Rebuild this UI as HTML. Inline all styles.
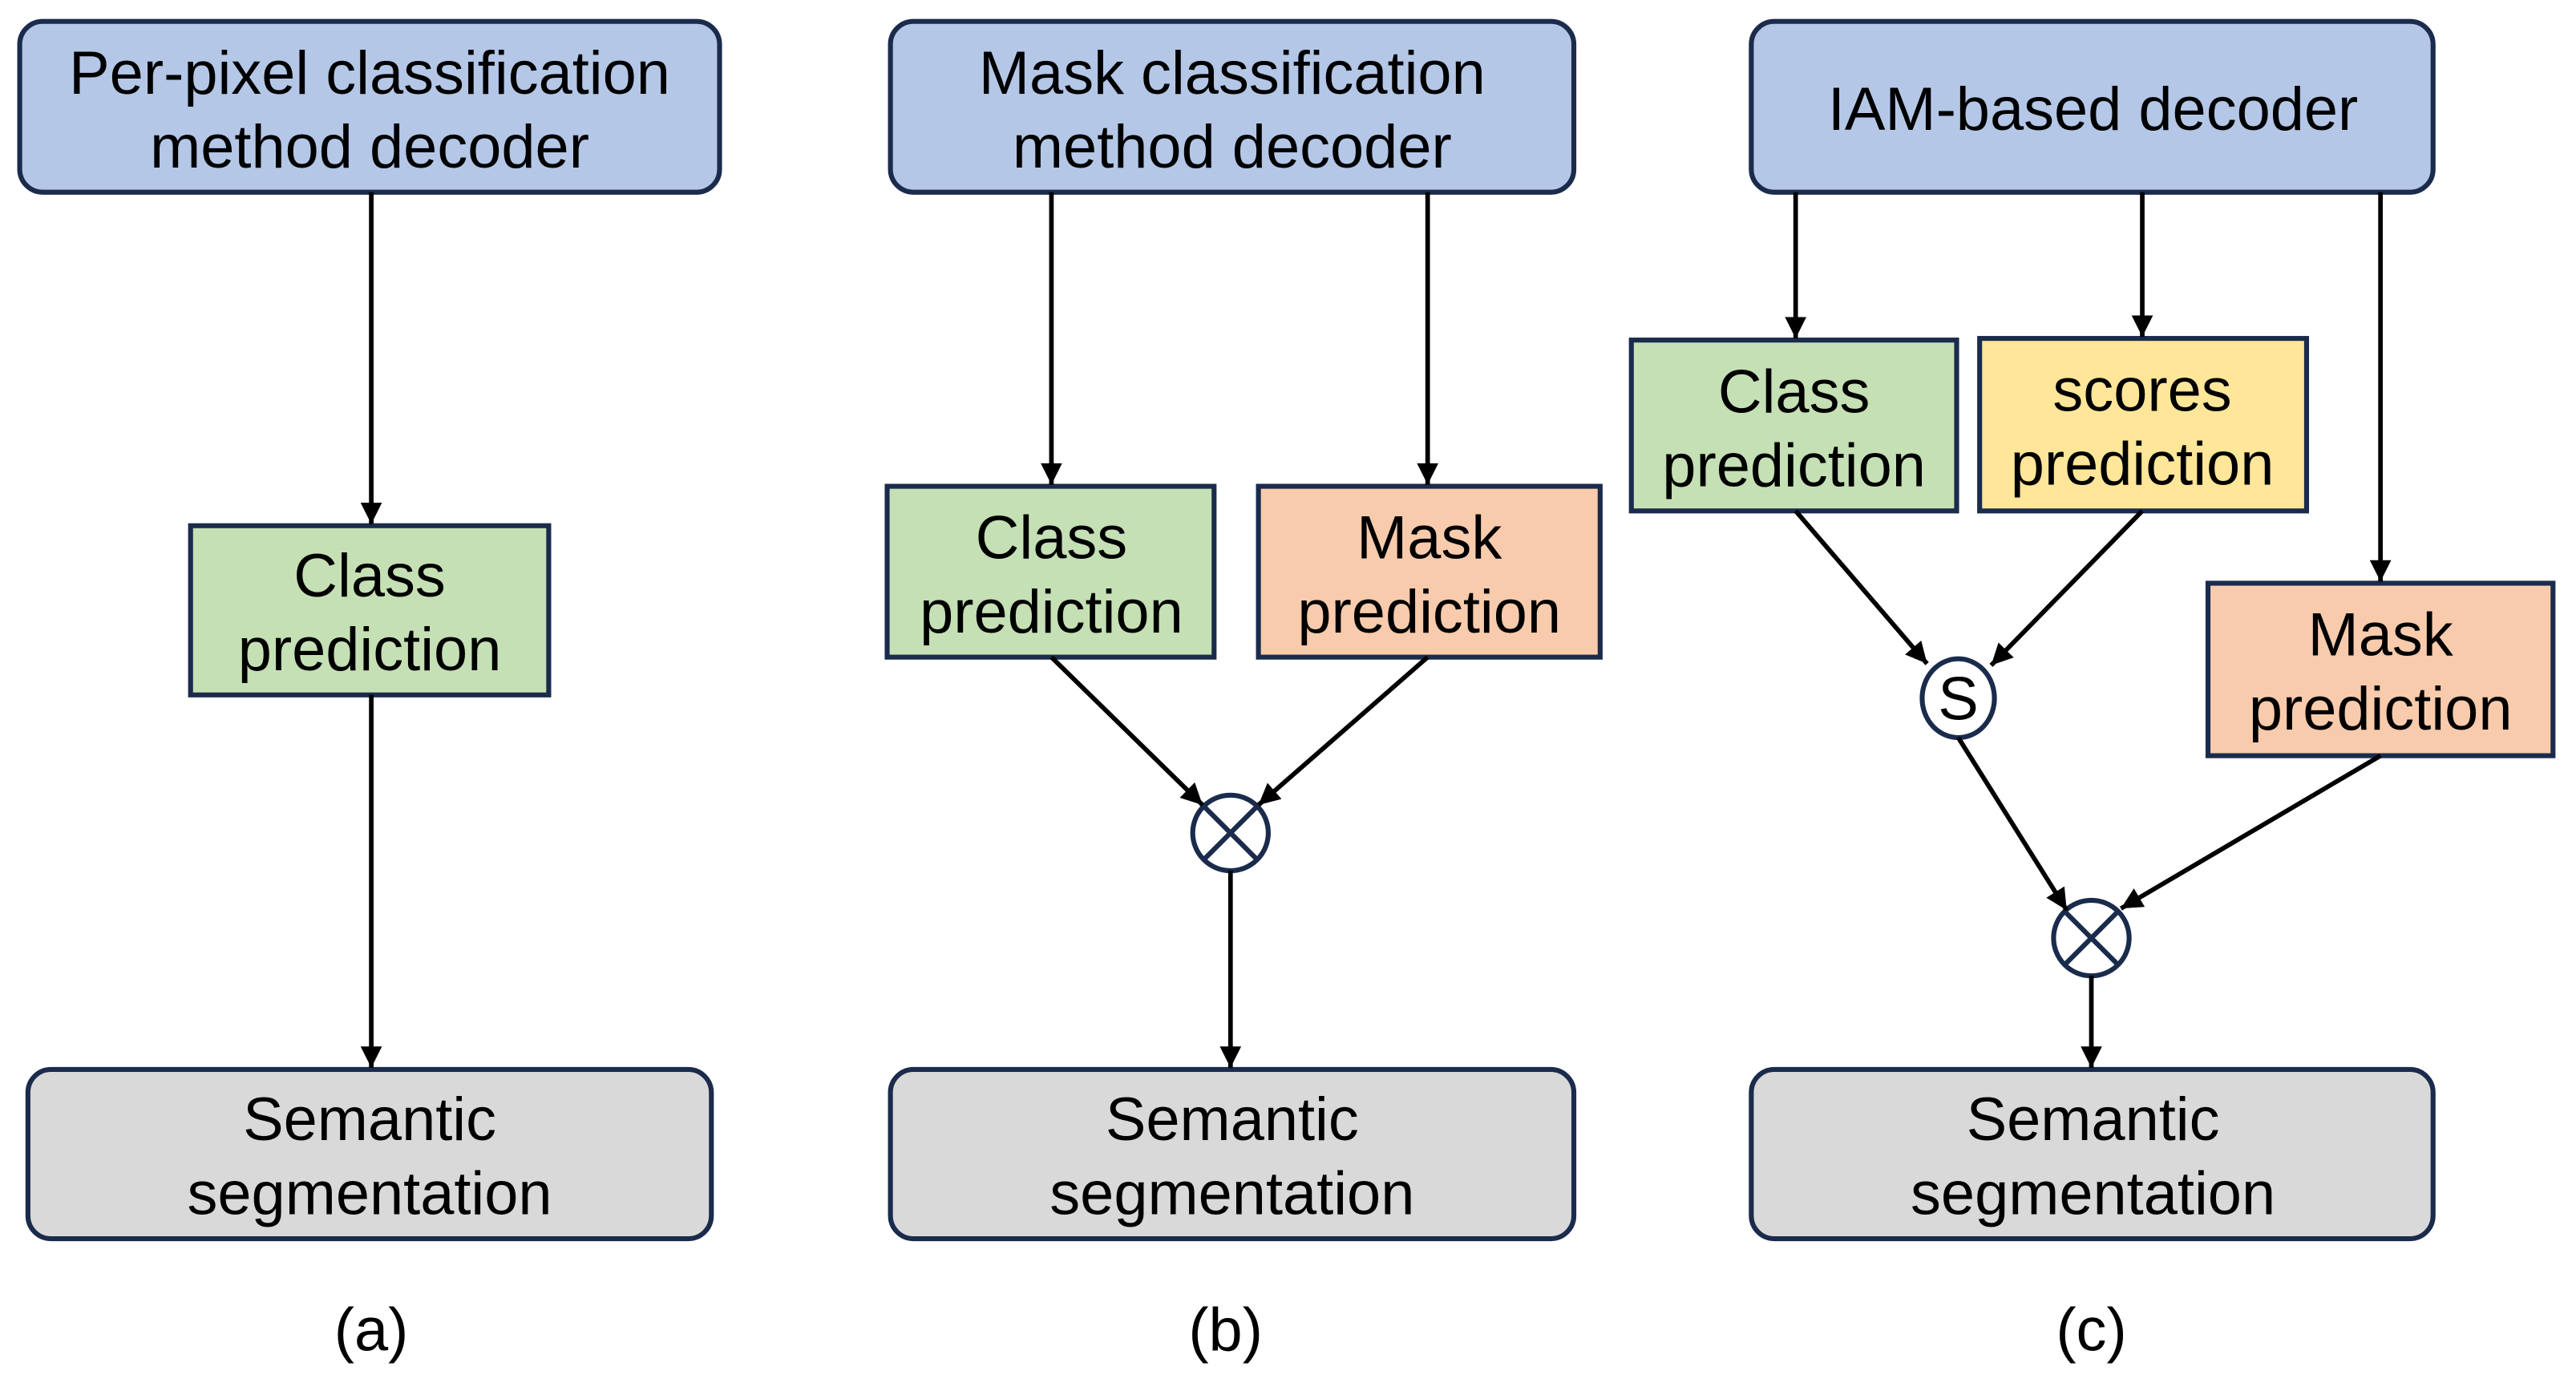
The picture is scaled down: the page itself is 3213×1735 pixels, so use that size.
<!DOCTYPE html>
<html><head><meta charset="utf-8"><style>html,body{margin:0;padding:0;background:#fff}svg{display:block}</style></head>
<body>
<svg width="3213" height="1735" viewBox="0 0 1568 846.7" xmlns="http://www.w3.org/2000/svg" font-family="Liberation Sans, Arial, sans-serif" font-size="37" text-anchor="middle">
<defs>
<marker id="ar" viewBox="0 0 10 10" refX="10" refY="5" markerWidth="15" markerHeight="13" markerUnits="userSpaceOnUse" orient="auto">
<path d="M0,0 L10,5 L0,10 z" fill="#000"/></marker>
</defs>
<rect width="1568" height="847" fill="#fff"/>
<g stroke="#1a2b4c" stroke-width="3">
<rect x="12" y="13" width="426" height="104" rx="14" fill="#b4c7e7"/>
<rect x="116" y="320" width="218" height="103" fill="#c5e0b4"/>
<rect x="17" y="651" width="416" height="103" rx="14" fill="#d9d9d9"/>
<rect x="542" y="13" width="416" height="104" rx="14" fill="#b4c7e7"/>
<rect x="540" y="296" width="199" height="104" fill="#c5e0b4"/>
<rect x="766" y="296" width="208" height="104" fill="#f8cbad"/>
<rect x="542" y="651" width="416" height="103" rx="14" fill="#d9d9d9"/>
<rect x="1066" y="13" width="415" height="104" rx="14" fill="#b4c7e7"/>
<rect x="993" y="207" width="198" height="104" fill="#c5e0b4"/>
<rect x="1205" y="206" width="199" height="105" fill="#ffe699"/>
<rect x="1344" y="355" width="210" height="105" fill="#f8cbad"/>
<rect x="1066" y="651" width="415" height="103" rx="14" fill="#d9d9d9"/>
<circle cx="749" cy="507" r="23" fill="#fff"/>
<line x1="732.7" y1="490.7" x2="765.3" y2="523.3"/><line x1="765.3" y1="490.7" x2="732.7" y2="523.3"/>
<ellipse cx="1192" cy="425" rx="22" ry="24" fill="#fff"/>
<circle cx="1273" cy="571" r="23" fill="#fff"/>
<line x1="1256.7" y1="554.7" x2="1289.3" y2="587.3"/><line x1="1289.3" y1="554.7" x2="1256.7" y2="587.3"/>
</g>
<g stroke="#000" stroke-width="2.8" fill="none" marker-end="url(#ar)">
<line x1="226" y1="117" x2="226" y2="319"/>
<line x1="226" y1="423" x2="226" y2="650"/>
<line x1="640" y1="117" x2="640" y2="295"/>
<line x1="869" y1="117" x2="869" y2="295"/>
<line x1="640" y1="400" x2="732" y2="490"/>
<line x1="869" y1="400" x2="766" y2="490"/>
<line x1="749" y1="530" x2="749" y2="650"/>
<line x1="1093" y1="117" x2="1093" y2="206"/>
<line x1="1304" y1="117" x2="1304" y2="205"/>
<line x1="1449" y1="117" x2="1449" y2="354"/>
<line x1="1093" y1="311" x2="1173" y2="404"/>
<line x1="1304" y1="311" x2="1212" y2="405"/>
<line x1="1192" y1="449" x2="1258" y2="554"/>
<line x1="1449" y1="460" x2="1291" y2="553"/>
<line x1="1273" y1="594" x2="1273" y2="650"/>
</g>
<g fill="#000">
<text x="225" y="57">Per-pixel classification</text><text x="225" y="102">method decoder</text>
<text x="225" y="363">Class</text><text x="225" y="408">prediction</text>
<text x="225" y="694">Semantic</text><text x="225" y="739">segmentation</text>
<text x="226" y="822">(a)</text>
<text x="750" y="57">Mask classification</text><text x="750" y="102">method decoder</text>
<text x="640" y="340">Class</text><text x="640" y="385">prediction</text>
<text x="870" y="340">Mask</text><text x="870" y="385">prediction</text>
<text x="750" y="694">Semantic</text><text x="750" y="739">segmentation</text>
<text x="746" y="822">(b)</text>
<text x="1274" y="79">IAM-based decoder</text>
<text x="1092" y="251">Class</text><text x="1092" y="296">prediction</text>
<text x="1304" y="250">scores</text><text x="1304" y="295">prediction</text>
<text x="1449" y="399">Mask</text><text x="1449" y="444">prediction</text>
<text x="1192" y="438">S</text>
<text x="1274" y="694">Semantic</text><text x="1274" y="739">segmentation</text>
<text x="1273" y="822">(c)</text>
</g>
</svg>
</body></html>
